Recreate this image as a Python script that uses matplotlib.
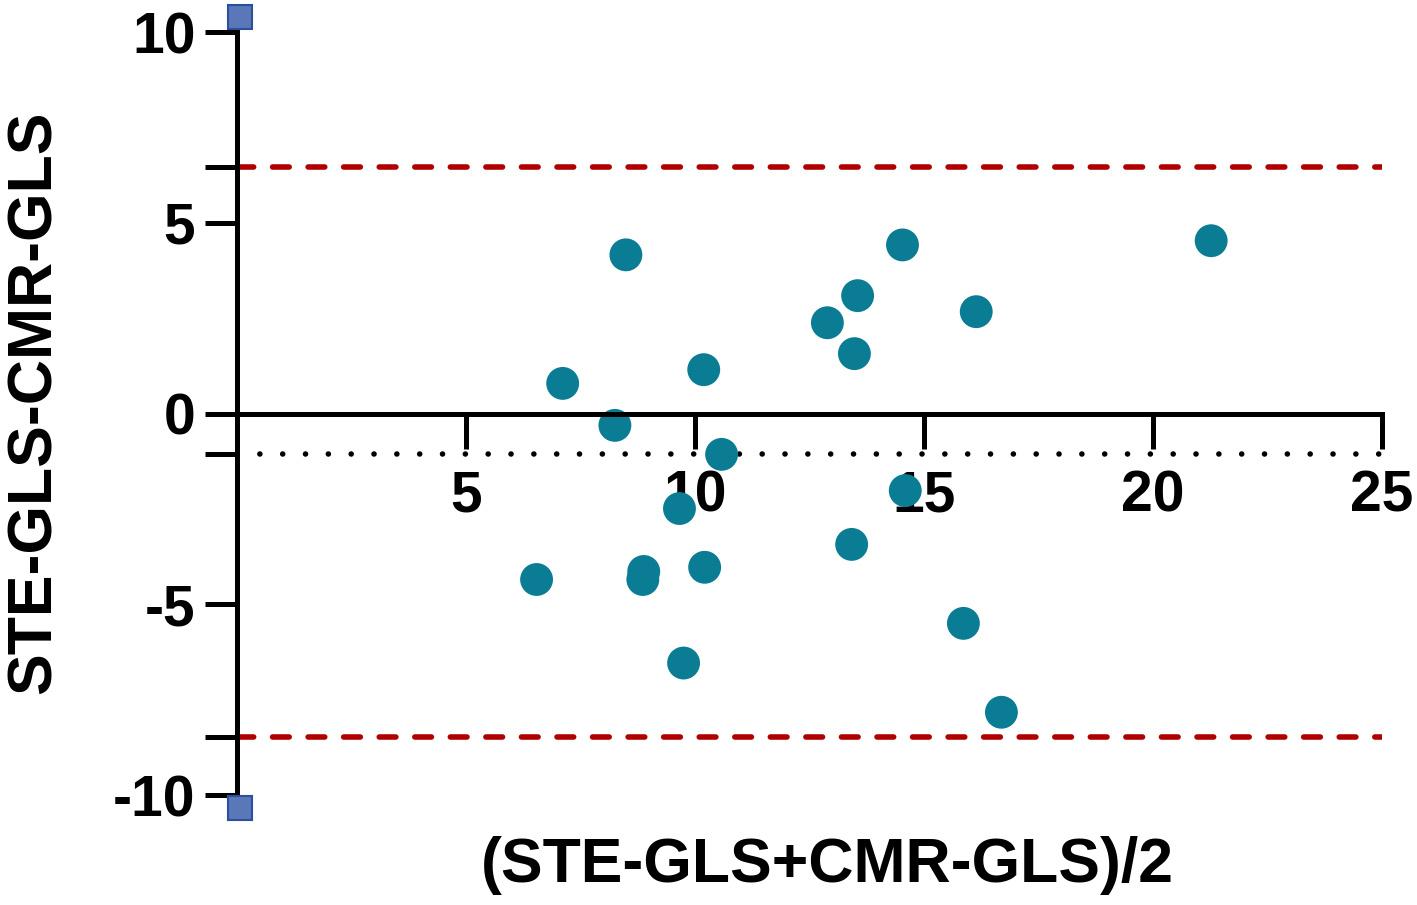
import numpy as np
import matplotlib.pyplot as plt
import matplotlib.transforms as mtransforms

plt.rcParams['font.family'] = ['Liberation Sans', 'DejaVu Sans']
plt.rcParams['font.weight'] = 'bold'

# Bland-Altman data: mean of the two methods vs their difference
mean_gls = [8.49, 7.11, 8.25, 6.54, 8.88, 8.86, 9.66, 9.75, 10.19, 10.21, 10.58,
            12.89, 13.55, 13.48, 13.42, 14.53, 14.59, 16.14, 15.86, 16.69, 21.27]
diff_gls = [4.16, 0.79, -0.31, -4.35, -4.14, -4.35, -2.49, -6.54, 1.15, -4.03, -1.07,
            2.38, 3.09, 1.57, -3.43, 4.42, -2.02, 2.67, -5.50, -7.83, 4.53]

bias = -1.05
upper_loa = 6.47
lower_loa = -8.48

x_ticks = [5, 10, 15, 20, 25]
y_ticks = [-10, -5, 0, 5, 10]

fig = plt.figure(figsize=(14.17, 9.05), dpi=100)
ax = fig.add_axes([0.1673, 0.1215, 0.808, 0.8431])

ax.set_xlim(0, 25)
ax.set_ylim(-10, 10)

# limits of agreement and bias
ax.axhline(upper_loa, color='#b00000', lw=4, ls=(0, (3.0, 3.4)), dash_capstyle='round', zorder=1)
ax.axhline(lower_loa, color='#b00000', lw=4, ls=(0, (3.0, 3.4)), dash_capstyle='round', zorder=1)
ax.axhline(bias, color='black', lw=4, ls=(0, (0.01, 4.1)), dash_capstyle='round', zorder=1)

ax.scatter(mean_gls, diff_gls, s=560, color='#0a7d95', edgecolors='none', zorder=3)

# spines
for side in ['top', 'right']:
    ax.spines[side].set_visible(False)
ax.spines['left'].set_linewidth(3.6)
ax.spines['bottom'].set_linewidth(3.6)
ax.spines['bottom'].set_position(('data', 0))
ax.spines['left'].set_zorder(4)
ax.spines['bottom'].set_zorder(4)

ax.set_xticks(x_ticks)
ax.set_xticklabels([str(t) for t in x_ticks])
ax.set_yticks(y_ticks)
ax.set_yticklabels([str(t) for t in y_ticks])
ax.set_yticks([upper_loa, bias, lower_loa], minor=True)

ax.tick_params(axis='x', direction='out', length=25, width=3.6, pad=15, labelsize=41)
ax.tick_params(axis='y', direction='out', length=23, width=3.6, pad=7, labelsize=41)
ax.tick_params(axis='y', which='minor', direction='out', length=23, width=3.6)
for lab in ax.get_xticklabels() + ax.get_yticklabels():
    lab.set_fontweight('bold')

# end caps on the y axis
up = mtransforms.offset_copy(ax.transData, fig=fig, x=0.03, y=0.15, units='inches')
dn = mtransforms.offset_copy(ax.transData, fig=fig, x=0.03, y=-0.13, units='inches')
ax.plot([0], [10], marker='s', ms=17, color='#5a78b8', mec='#2b4f9e', mew=1.5,
        transform=up, clip_on=False, zorder=5)
ax.plot([0], [-10], marker='s', ms=17, color='#5a78b8', mec='#2b4f9e', mew=1.5,
        transform=dn, clip_on=False, zorder=5)

fig.text(0.584, 0.044, '(STE-GLS+CMR-GLS)/2', ha='center', va='center',
         fontsize=45, fontweight='bold')
fig.text(0.024, 0.555, 'STE-GLS-CMR-GLS', ha='center', va='center', rotation=90,
         fontsize=45, fontweight='bold')

fig.savefig('out.png', dpi=100)
